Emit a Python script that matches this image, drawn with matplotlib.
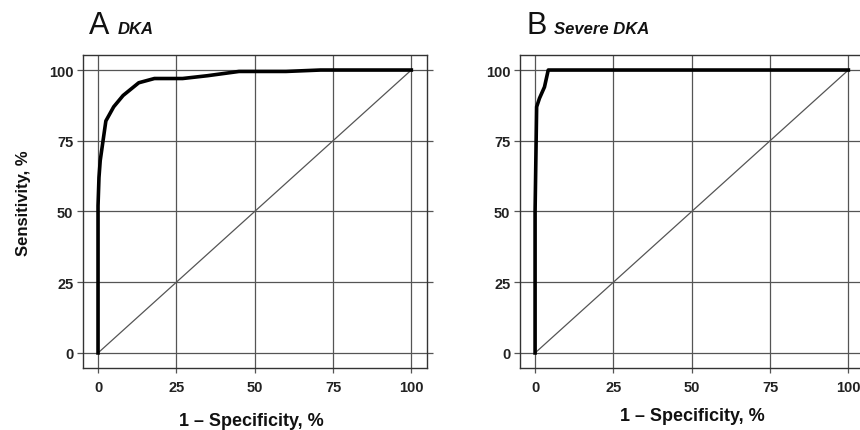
import matplotlib
matplotlib.use("Agg")
import matplotlib.pyplot as plt

plt.rcParams['font.family'] = ['Liberation Sans', 'DejaVu Sans']

# ROC curve points (1 - specificity, sensitivity), in %
dka_fpr = [0, 0, 0.3, 0.7, 2.5, 5, 8, 13, 18, 27, 35, 45, 60, 71, 100]
dka_sens = [0, 52, 62, 68, 82, 87, 91, 95.5, 97, 97, 98, 99.5, 99.5, 100, 100]

severe_fpr = [0, 0, 0.5, 1.4, 3, 4.2, 100]
severe_sens = [0, 50, 87, 90, 94, 100, 100]

ticks = [0, 25, 50, 75, 100]
panels = [
    ("A", "DKA", dka_fpr, dka_sens),
    ("B", "Severe DKA", severe_fpr, severe_sens),
]

fig = plt.figure(figsize=(8.6, 4.31), dpi=100)
lefts = [0.0965, 0.6047]
xlabel_pos = [(0.292, 0.023), (0.8047, 0.0325)]

for (letter, name, fpr, sens), left, (lx, ly) in zip(panels, lefts, xlabel_pos):
    ax = fig.add_axes([left, 0.144, 0.40, 0.726])
    ax.set_xlim(-4.8, 105)
    ax.set_ylim(-5.3, 105.3)
    ax.set_xticks(ticks)
    ax.set_yticks(ticks)
    ax.grid(True, color='#555555', linewidth=0.9)
    ax.set_axisbelow(True)
    for s in ax.spines.values():
        s.set_color('#333333')
        s.set_linewidth(1.0)
    ax.tick_params(axis='y', left=True, right=True, length=4,
                   width=0.9, color='#555555', pad=3, labelsize=10.5)
    ax.tick_params(axis='x', length=3.5, width=0.9, color='#555555',
                   pad=5, labelsize=10.5)
    for lab in ax.get_xticklabels() + ax.get_yticklabels():
        lab.set_fontweight('bold')
        lab.set_color('#222222')

    # reference diagonal
    ax.plot([0, 100], [0, 100], color='#555555', linewidth=0.9)
    ax.plot(fpr, sens, color='black', linewidth=2.6, solid_joinstyle='round')

    # panel titles
    fig.text(left + 0.007, 0.92, letter, fontsize=22, color='#111111',
             ha='left', va='baseline')
    fig.text(left + 0.040, 0.92, name, fontsize=12, fontweight='bold',
             fontstyle='italic', color='#111111', ha='left', va='baseline')

    fig.text(lx, ly, "1 \u2013 Specificity, %", fontsize=13,
             fontweight='bold', ha='center', va='center', color='#111111')

fig.text(0.027, 1 - 203 / 431, "Sensitivity, %", fontsize=12, fontweight='bold',
         rotation=90, ha='center', va='center', color='#111111')

fig.savefig("out.png", dpi=100)
